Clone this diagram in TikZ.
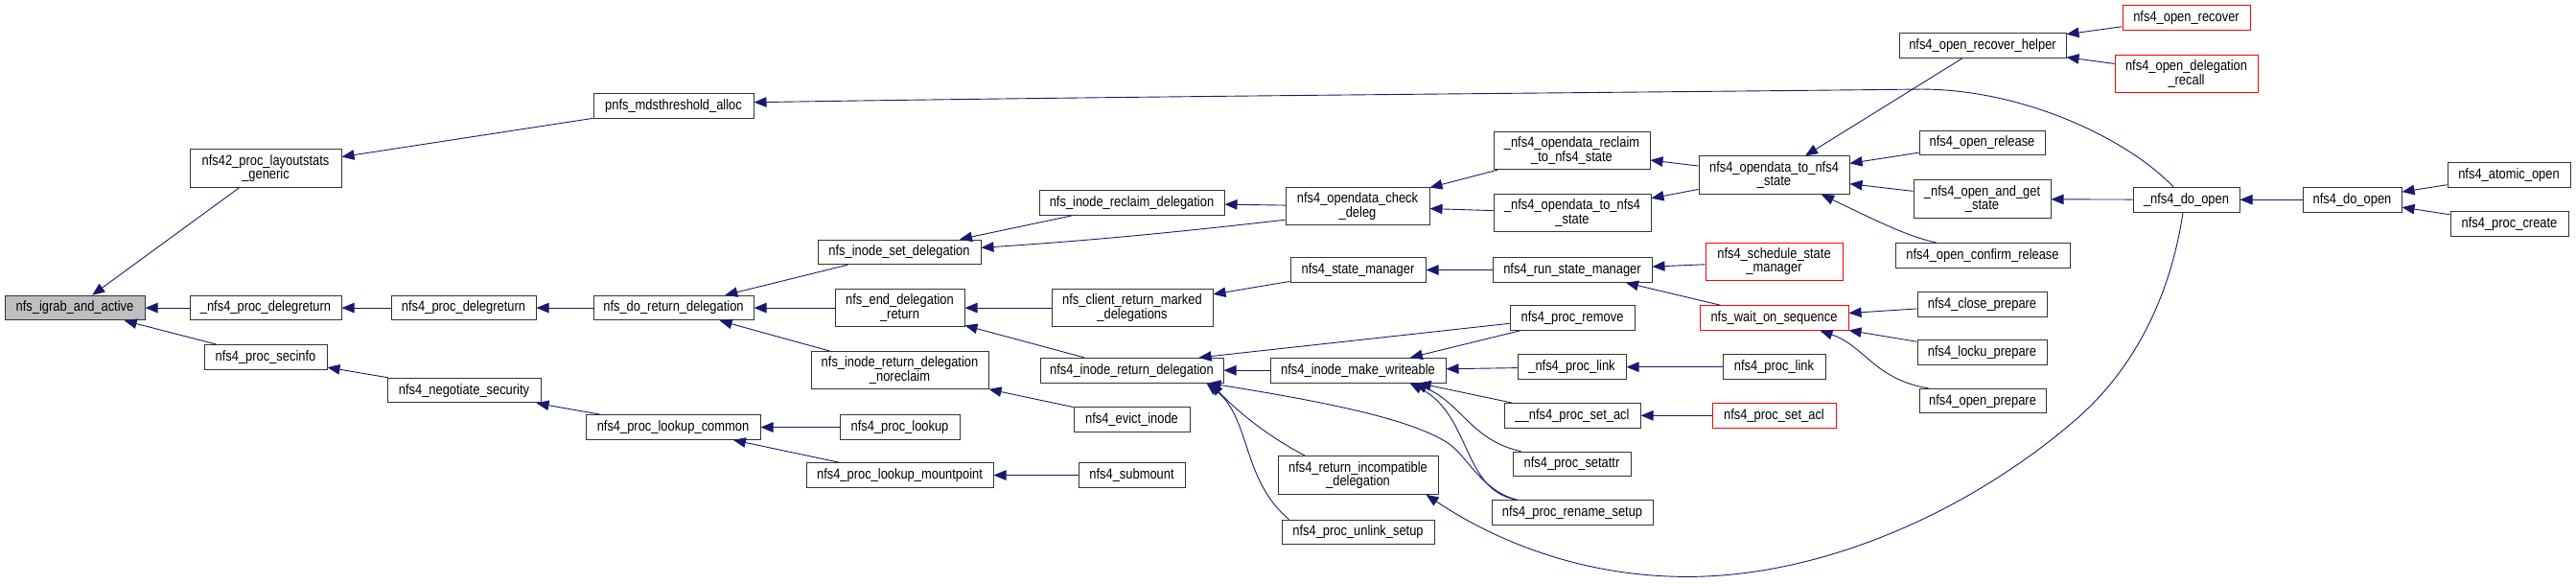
\documentclass[tikz,border=0pt]{standalone}
\usepackage{fontspec}
\setmainfont{Liberation Sans}[FakeStretch=0.86]
\usetikzlibrary{arrows.meta}
\definecolor{edgeblue}{HTML}{191970}
\definecolor{rootgray}{HTML}{BFBFBF}
\definecolor{boxline}{HTML}{333333}
\tikzset{
  fn/.style={draw=boxline, line width=1pt, fill=white, rectangle, inner sep=0pt,
    align=center, font=\fontsize{15}{14.6}\selectfont},
  fnred/.style={fn, draw=red},
  fnroot/.style={fn, fill=rootgray},
  one/.style={minimum height=25.6pt},
  two/.style={minimum height=39.5pt},
  call/.style={draw=edgeblue, line width=0.9pt, {Triangle[length=13pt,width=10.5pt]}-},
}
\begin{document}
\begin{tikzpicture}[x=1pt, y=-1.16327pt]
\useasboundingbox (0,0) rectangle (2687,522.67);
% column 0-2
\node[fnroot, one, minimum width=146pt] (igrab) at (78,276) {nfs\_igrab\_and\_active};
\node[fn, two, minimum width=158pt] (lsg) at (277,151) {nfs42\_proc\_layoutstats\\\_generic};
\node[fn, one, minimum width=158pt] (dr4) at (277,276) {\_nfs4\_proc\_delegreturn};
\node[fn, one, minimum width=128pt] (secinfo) at (277,320) {nfs4\_proc\_secinfo};
\node[fn, one, minimum width=167pt] (pnfs) at (702.5,95) {pnfs\_mdsthreshold\_alloc};
\node[fn, one, minimum width=151pt] (delegreturn) at (483.5,276) {nfs4\_proc\_delegreturn};
\node[fn, one, minimum width=160pt] (negsec) at (484,350) {nfs4\_negotiate\_security};
\node[fn, one, minimum width=167pt] (dorert) at (702.5,276) {nfs\_do\_return\_delegation};
\node[fn, one, minimum width=182pt] (lookupc) at (702,383) {nfs4\_proc\_lookup\_common};
% column 5
\node[fn, one, minimum width=170pt] (setdeleg) at (938,226) {nfs\_inode\_set\_delegation};
\node[fn, two, minimum width=135pt] (enddeleg) at (938.5,276) {nfs\_end\_delegation\\\_return};
\node[fn, two, minimum width=185pt] (noreclaim) at (938.5,332) {nfs\_inode\_return\_delegation\\\_noreclaim};
\node[fn, one, minimum width=125pt] (lookup) at (938.5,383) {nfs4\_proc\_lookup};
\node[fn, one, minimum width=195pt] (mountpoint) at (938.5,426) {nfs4\_proc\_lookup\_mountpoint};
% column 6
\node[fn, one, minimum width=193pt] (reclaimdeleg) at (1180.5,182) {nfs\_inode\_reclaim\_delegation};
\node[fn, two, minimum width=168pt] (crmd) at (1181,276) {nfs\_client\_return\_marked\\\_delegations};
\node[fn, one, minimum width=191pt] (ird) at (1180.5,332) {nfs4\_inode\_return\_delegation};
\node[fn, one, minimum width=121pt] (evict) at (1180.5,376) {nfs4\_evict\_inode};
\node[fn, one, minimum width=111pt] (submount) at (1180.5,426) {nfs4\_submount};
% column 7
\node[fn, two, minimum width=150pt] (checkdeleg) at (1416,185) {nfs4\_opendata\_check\\\_deleg};
\node[fn, one, minimum width=141pt] (statemgr) at (1416.5,242) {nfs4\_state\_manager};
\node[fn, one, minimum width=183pt] (makew) at (1416.5,332) {nfs4\_inode\_make\_writeable};
\node[fn, two, minimum width=167pt] (incompat) at (1416.5,426) {nfs4\_return\_incompatible\\\_delegation};
\node[fn, one, minimum width=159pt] (unlink) at (1416.5,477) {nfs4\_proc\_unlink\_setup};
% column 8
\node[fn, two, minimum width=163pt] (reclaimto) at (1639.5,135) {\_nfs4\_opendata\_reclaim\\\_to\_nfs4\_state};
\node[fn, two, minimum width=164pt] (odtoU) at (1640,191) {\_nfs4\_opendata\_to\_nfs4\\\_state};
\node[fn, one, minimum width=166pt] (runsm) at (1640,242) {nfs4\_run\_state\_manager};
\node[fn, one, minimum width=130pt] (remove) at (1640,285) {nfs4\_proc\_remove};
\node[fn, one, minimum width=113pt] (linkU) at (1639.5,329) {\_nfs4\_proc\_link};
\node[fn, one, minimum width=142pt] (setaclU) at (1640,372.5) {\_\_nfs4\_proc\_set\_acl};
\node[fn, one, minimum width=123pt] (setattr) at (1639.5,416) {nfs4\_proc\_setattr};
\node[fn, one, minimum width=168pt] (rename) at (1640,459.5) {nfs4\_proc\_rename\_setup};
% column 9
\node[fn, two, minimum width=157pt] (odto) at (1850.5,157) {nfs4\_opendata\_to\_nfs4\\\_state};
\node[fnred, two, minimum width=143pt] (schedsm) at (1850.5,234.5) {nfs4\_schedule\_state\\\_manager};
\node[fnred, one, minimum width=155pt] (waitseq) at (1850.5,285) {nfs\_wait\_on\_sequence};
\node[fn, one, minimum width=107pt] (proclink) at (1850.5,329) {nfs4\_proc\_link};
\node[fnred, one, minimum width=129pt] (procsetacl) at (1850.5,372.5) {nfs4\_proc\_set\_acl};
% column 10
\node[fn, one, minimum width=174pt] (recoverhelper) at (2068,41) {nfs4\_open\_recover\_helper};
\node[fn, one, minimum width=131pt] (openrelease) at (2067.5,128) {nfs4\_open\_release};
\node[fn, two, minimum width=143pt] (openandget) at (2067.5,178.5) {\_nfs4\_open\_and\_get\\\_state};
\node[fn, one, minimum width=182pt] (confirmrelease) at (2068,229) {nfs4\_open\_confirm\_release};
\node[fn, one, minimum width=135pt] (closeprep) at (2067.5,273) {nfs4\_close\_prepare};
\node[fn, one, minimum width=135pt] (lockuprep) at (2067.5,316) {nfs4\_locku\_prepare};
\node[fn, one, minimum width=132pt] (openprep) at (2068,359.5) {nfs4\_open\_prepare};
% column 11-13
\node[fnred, one, minimum width=133pt] (openrecover) at (2280.5,16) {nfs4\_open\_recover};
\node[fnred, two, minimum width=149pt] (delegrecall) at (2280.5,66) {nfs4\_open\_delegation\\\_recall};
\node[fn, one, minimum width=111pt] (doopenU) at (2280.5,179) {\_nfs4\_do\_open};
\node[fn, one, minimum width=103pt] (doopen) at (2453.5,179) {nfs4\_do\_open};
\node[fn, one, minimum width=128pt] (atomic) at (2617,157) {nfs4\_atomic\_open};
\node[fn, one, minimum width=123pt] (create) at (2617.5,200.5) {nfs4\_proc\_create};

% edges
\draw[call] (igrab) -- (lsg);
\draw[call] (igrab) -- (dr4);
\draw[call] (igrab) -- (secinfo);
\draw[call] (lsg) -- (pnfs);
\draw[call] ([yshift=3.8pt]pnfs.east) .. controls (1200,86) and (1700,83) .. (2000,80)
  .. controls (2110,79) and (2220,125) .. ([xshift=-13.5pt]doopenU.north);
\draw[call] (dr4) -- (delegreturn);
\draw[call] (delegreturn) -- (dorert);
\draw[call] (secinfo) -- (negsec);
\draw[call] (negsec) -- (lookupc);
\draw[call] (dorert) -- (setdeleg);
\draw[call] (dorert) -- (enddeleg);
\draw[call] (dorert) -- (noreclaim);
\draw[call] (lookupc) -- (lookup);
\draw[call] (lookupc) -- (mountpoint);
\draw[call] (setdeleg) -- (reclaimdeleg);
\draw[call] ([yshift=4.6pt]setdeleg.east) .. controls (1150,215) and (1250,206) .. ([yshift=-14pt]checkdeleg.west);
\draw[call] (reclaimdeleg) -- (checkdeleg);
\draw[call] (enddeleg) -- (crmd);
\draw[call] (enddeleg) -- (ird);
\draw[call] (noreclaim) -- (evict);
\draw[call] (mountpoint) -- (submount);
\draw[call] (crmd) -- (statemgr);
\draw[call] ([xshift=70pt]ird.north) -- ([yshift=-5.8pt]remove.west);
\draw[call] (ird) -- (makew);
\draw[call] ([xshift=-16pt]ird.south east) .. controls (1380,360) and (1470,375) .. (1510,397)
  .. controls (1530,408) and (1545,440) .. ([xshift=27pt]rename.north west);
\draw[call] ([xshift=-14pt]ird.south east) .. controls (1290,368) and (1320,390) .. ([xshift=-55pt]incompat.north);
\draw[call] ([xshift=-18pt]ird.south east) .. controls (1305,375) and (1295,430) .. ([xshift=8pt]unlink.north west);
\draw[call] (checkdeleg) -- (reclaimto);
\draw[call] (checkdeleg) -- (odtoU);
\draw[call] (statemgr) -- (runsm);
\draw[call] (makew) -- (remove);
\draw[call] (makew) -- (linkU);
\draw[call] (makew) -- (setaclU);
\draw[call] ([xshift=-33pt]makew.south east) .. controls (1525,362) and (1535,395) .. ([xshift=9pt]setattr.north west);
\draw[call] ([xshift=-38pt]makew.south east) .. controls (1535,372) and (1525,440) .. ([xshift=27pt]rename.north west);
\draw[call] ([xshift=-13pt]incompat.south east) .. controls (1560,485) and (1650,517) .. (1760,517)
  .. controls (1900,517) and (2050,460) .. (2160,380)
  .. controls (2230,330) and (2265,260) .. ([xshift=-3.5pt]doopenU.south);
\draw[call] (reclaimto) -- (odto);
\draw[call] (odtoU) -- (odto);
\draw[call] (runsm) -- (schedsm);
\draw[call] (runsm) -- (waitseq);
\draw[call] (linkU) -- (proclink);
\draw[call] (setaclU) -- (procsetacl);
\draw[call] (odto) -- (recoverhelper);
\draw[call] (odto) -- (openrelease);
\draw[call] (odto) -- (openandget);
\draw[call] ([xshift=49.5pt]odto.south) .. controls (1960,199) and (1990,212) .. ([xshift=-48pt]confirmrelease.north);
\draw[call] (waitseq) -- (closeprep);
\draw[call] (waitseq) -- (lockuprep);
\draw[call] ([xshift=48pt]waitseq.south) .. controls (1945,310) and (1955,340) .. ([xshift=10pt]openprep.north west);
\draw[call] (recoverhelper) -- (openrecover);
\draw[call] (recoverhelper) -- (delegrecall);
\draw[call] (openandget) -- (doopenU);
\draw[call] (doopenU) -- (doopen);
\draw[call] (doopen) -- (atomic);
\draw[call] (doopen) -- (create);
\end{tikzpicture}
\end{document}
